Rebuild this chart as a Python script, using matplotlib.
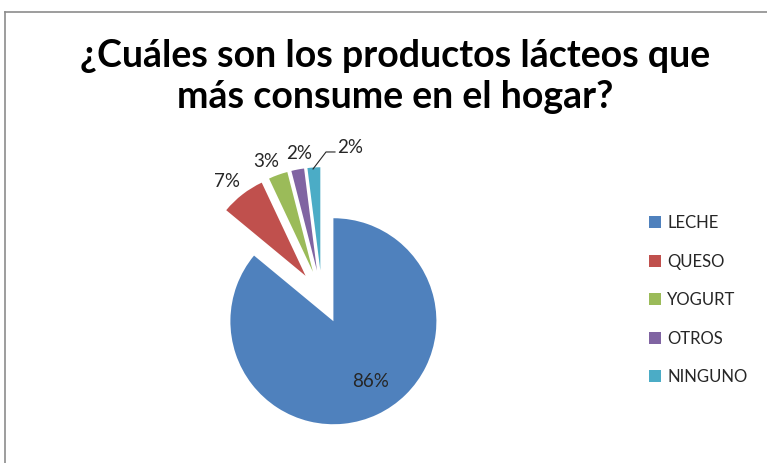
import numpy as np
import matplotlib
matplotlib.use("Agg")
import matplotlib.pyplot as plt
from matplotlib.lines import Line2D

categories = ["LECHE", "QUESO", "YOGURT", "OTROS", "NINGUNO"]
values = [86, 7, 3, 2, 2]
pct_labels = ["86%", "7%", "3%", "2%", "2%"]
colors = ["#4F81BD", "#C0504D", "#9BBB59", "#8064A2", "#4BACC6"]
explode = [0.26, 0.26, 0.26, 0.26, 0.26]

# label positions in pie units (radius = 1)
label_pos = [(0.476, -0.816), (-0.922, 1.117), (-0.544, 1.311),
             (-0.223, 1.398), (0.272, 1.456)]

W, H = 767, 463
cx, cy, R = 322, 297, 103   # pie centre / radius in pixels (from top-left)

plt.rcParams['font.family'] = ['Lato', 'DejaVu Sans']
fig = plt.figure(figsize=(W / 100, H / 100), dpi=100)
fig.patch.set_facecolor("white")

ax = fig.add_axes([0, 0, 1, 1])
wedges, _ = ax.pie(values, colors=colors, explode=explode, startangle=90,
                   counterclock=False, radius=1,
                   wedgeprops=dict(linewidth=0))
ax.set_xlim(-cx / R, (W - cx) / R)
ax.set_ylim(-(H - cy) / R, cy / R)
ax.set_aspect('auto')
ax.axis('off')

for (x, y), t in zip(label_pos, pct_labels):
    ax.text(x, y, t, ha='center', va='center', fontsize=13.5, color='#262626')

# leader line for NINGUNO
ax.plot([-0.087, 0.039, 0.126], [1.243, 1.408, 1.408], color='#262626', lw=0.8)

fig.text(395 / W, 1 - 67 / H, "¿Cuáles son los productos lácteos que",
         ha='center', va='baseline', fontsize=27, fontweight='bold', color='black')
fig.text(395 / W, 1 - 108 / H, "más consume en el hogar?",
         ha='center', va='baseline', fontsize=27, fontweight='bold', color='black')

leg = fig.legend(wedges, categories, loc='upper left',
                 bbox_to_anchor=(634 / W, 1 - 200 / H), frameon=False,
                 fontsize=12, handlelength=0.7, handleheight=0.7,
                 handletextpad=0.4, labelspacing=1.35)
for t in leg.get_texts():
    t.set_color('#262626')

# chart area border
fig.add_artist(Line2D([5 / W, 5 / W], [0, 1 - 12 / H], color='#8c8c8c', lw=1.2,
                      transform=fig.transFigure))
fig.add_artist(Line2D([5 / W, 1], [1 - 12 / H, 1 - 12 / H], color='#8c8c8c', lw=1.2,
                      transform=fig.transFigure))

fig.savefig("out.png", dpi=100)
